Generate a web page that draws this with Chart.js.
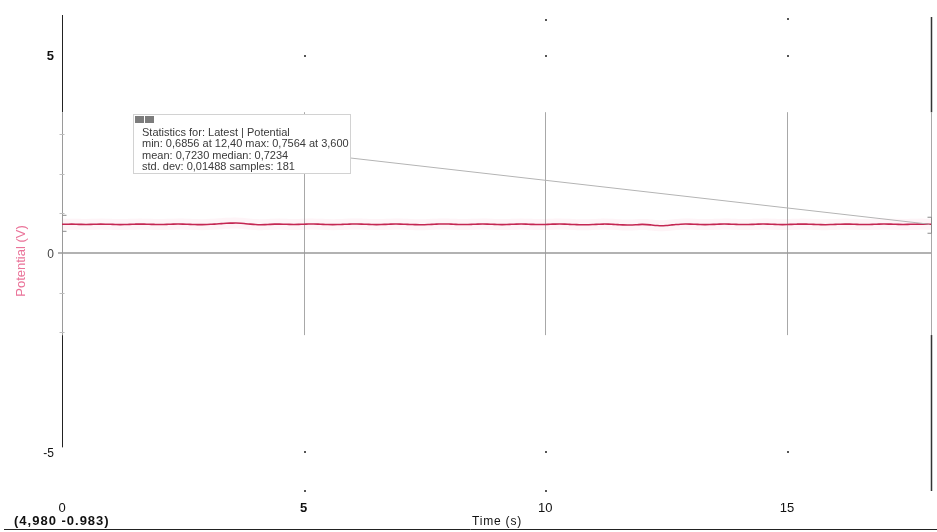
<!DOCTYPE html>
<html>
<head>
<meta charset="utf-8">
<script src="https://cdn.jsdelivr.net/npm/chart.js@4/dist/chart.umd.min.js"></script>
<style>
  html, body { margin: 0; padding: 0; background: #fff; }
  #graph { display: block; }
</style>
</head>
<body>
<canvas id="graph" width="937" height="532"></canvas>
<script>
// logger run: 181 samples, one every 0.1 s
const sampleInterval = 0.1;
const potential = [
  0.7234, 0.7251, 0.7268, 0.7245, 0.7212, 0.7198, 0.7221, 0.7259, 0.7283, 0.7266,
  0.7231, 0.7187, 0.7154, 0.7179, 0.7226, 0.7262, 0.7291, 0.7274, 0.7238, 0.7205,
  0.7171, 0.7189, 0.7233, 0.7278, 0.7302, 0.7285, 0.7241, 0.7196, 0.7158, 0.7143,
  0.7180, 0.7247, 0.7318, 0.7402, 0.7489, 0.7531, 0.7564, 0.7497, 0.7381, 0.7268,
  0.7175, 0.7128, 0.7153, 0.7217, 0.7269, 0.7288, 0.7254, 0.7209, 0.7186, 0.7213,
  0.7257, 0.7293, 0.7304, 0.7271, 0.7220, 0.7172, 0.7149, 0.7168, 0.7215, 0.7263,
  0.7297, 0.7312, 0.7284, 0.7237, 0.7194, 0.7161, 0.7177, 0.7226, 0.7274, 0.7301,
  0.7289, 0.7243, 0.7198, 0.7152, 0.7117, 0.7136, 0.7194, 0.7256, 0.7297, 0.7318,
  0.7296, 0.7251, 0.7203, 0.7176, 0.7189, 0.7232, 0.7279, 0.7305, 0.7286, 0.7240,
  0.7195, 0.7164, 0.7181, 0.7229, 0.7272, 0.7294, 0.7271, 0.7228, 0.7187, 0.7170,
  0.7198, 0.7247, 0.7289, 0.7306, 0.7279, 0.7226, 0.7172, 0.7131, 0.7104, 0.7127,
  0.7183, 0.7245, 0.7291, 0.7276, 0.7219, 0.7153, 0.7082, 0.7041, 0.7069, 0.7137,
  0.7205, 0.7158, 0.7046, 0.6931, 0.6856, 0.6924, 0.7058, 0.7182, 0.7265, 0.7298,
  0.7281, 0.7237, 0.7191, 0.7163, 0.7178, 0.7221, 0.7268, 0.7296, 0.7283, 0.7246,
  0.7201, 0.7169, 0.7184, 0.7226, 0.7271, 0.7302, 0.7289, 0.7244, 0.7198, 0.7165,
  0.7179, 0.7223, 0.7265, 0.7291, 0.7274, 0.7233, 0.7187, 0.7152, 0.7138, 0.7166,
  0.7214, 0.7259, 0.7287, 0.7279, 0.7241, 0.7203, 0.7185, 0.7197, 0.7236, 0.7273,
  0.7294, 0.7285, 0.7252, 0.7218, 0.7199, 0.7213, 0.7247, 0.7278, 0.7291, 0.7276,
  0.7248
];
const timeTicks = [0, 5, 10, 15];
const potentialTicks = [5, 0, -5];
const statsLines = [
  'Statistics for: Latest | Potential',
  'min: 0,6856 at 12,40 max: 0,7564 at 3,600',
  'mean: 0,7230 median: 0,7234',
  'std. dev: 0,01488 samples: 181'
];
const cursorReadout = '(4,980 -0.983)';

const points = potential.map((v, i) => ({ x: Math.round(i * sampleInterval * 10) / 10, y: v }));

const FONT = '"Liberation Sans", Arial, sans-serif';

const graphDecor = {
  id: 'graphDecor',
  beforeDatasetsDraw(chart) {
    const { ctx, chartArea: a, scales: { x, y } } = chart;
    const bandTop = y.getPixelForValue(3.55);
    const bandBot = y.getPixelForValue(-2.07);
    ctx.save();
    ctx.lineWidth = 1;

    // vertical grid, only the middle strip
    ctx.strokeStyle = '#a8a8a8';
    timeTicks.slice(1).forEach(t => {
      const px = Math.round(x.getPixelForValue(t)) + 0.5;
      ctx.beginPath();
      ctx.moveTo(px, bandTop);
      ctx.lineTo(px, bandBot);
      ctx.stroke();
    });

    // zero line
    const y0 = y.getPixelForValue(0);
    ctx.strokeStyle = '#999';
    ctx.lineWidth = 1.7;
    ctx.beginPath();
    ctx.moveTo(a.left - 4, y0);
    ctx.lineTo(a.right, y0);
    ctx.stroke();

    // left axis: dark outside the strip, grey inside
    const lx = Math.round(a.left) + 0.5;
    ctx.lineWidth = 1;
    ctx.strokeStyle = '#222';
    ctx.beginPath();
    ctx.moveTo(lx, a.top);
    ctx.lineTo(lx, bandTop);
    ctx.moveTo(lx, bandBot);
    ctx.lineTo(lx, y.getPixelForValue(-4.9));
    ctx.stroke();
    ctx.strokeStyle = '#9a9a9a';
    ctx.beginPath();
    ctx.moveTo(lx, bandTop);
    ctx.lineTo(lx, bandBot);
    ctx.stroke();

    // small ticks on the left axis inside the strip
    ctx.strokeStyle = '#bdbdbd';
    [3, 2, 1, -1, -2].forEach(v => {
      const py = Math.round(y.getPixelForValue(v)) + 0.5;
      ctx.beginPath();
      ctx.moveTo(lx - 3, py);
      ctx.lineTo(lx + 2, py);
      ctx.stroke();
    });

    // right edge
    const rx = Math.round(a.right) - 0.5;
    ctx.strokeStyle = '#333';
    ctx.lineWidth = 1.5;
    ctx.beginPath();
    ctx.moveTo(rx, a.top + 2);
    ctx.lineTo(rx, bandTop);
    ctx.moveTo(rx, bandBot);
    ctx.lineTo(rx, a.bottom);
    ctx.stroke();
    ctx.strokeStyle = '#a8a8a8';
    ctx.lineWidth = 1;
    ctx.beginPath();
    ctx.moveTo(rx, bandTop);
    ctx.lineTo(rx, bandBot);
    ctx.stroke();

    // grid dots left outside the strip
    ctx.fillStyle = '#555';
    const dot = (t, v) => ctx.fillRect(Math.round(x.getPixelForValue(t)), Math.round(y.getPixelForValue(v)), 2, 2);
    timeTicks.slice(1).forEach(t => { dot(t, 5); dot(t, -5); });
    dot(10, 5.9); dot(15, 5.92); dot(5, -5.98); dot(10, -5.98);
    ctx.restore();
  },
  afterDatasetsDraw(chart) {
    const { ctx, chartArea: a, scales: { x, y } } = chart;
    ctx.save();

    // range brackets at both ends of the selection
    const yl = y.getPixelForValue(potential[0]);
    const yr = y.getPixelForValue(potential[potential.length - 1]);
    ctx.strokeStyle = '#8a8a8a';
    ctx.lineWidth = 1;
    const lx = Math.round(a.left) + 0.5;
    ctx.beginPath();
    ctx.moveTo(lx + 4, yl - 9); ctx.lineTo(lx, yl - 9);
    ctx.moveTo(lx + 4, yl + 7); ctx.lineTo(lx, yl + 7);
    ctx.stroke();
    const rx = Math.round(a.right) - 0.5;
    ctx.beginPath();
    ctx.moveTo(rx - 4, yr - 7); ctx.lineTo(rx, yr - 7); ctx.lineTo(rx, yr + 9); ctx.lineTo(rx - 4, yr + 9);
    ctx.stroke();

    // statistics box and its leader line
    const box = { left: 133.5, top: 114.5, w: 217, h: 59 };
    ctx.strokeStyle = '#b4b4b4';
    ctx.beginPath();
    ctx.moveTo(box.left + box.w, 158);
    ctx.lineTo(rx - 2, yr);
    ctx.stroke();

    ctx.fillStyle = '#fff';
    ctx.fillRect(box.left, box.top, box.w, box.h);
    ctx.strokeStyle = '#d2d2d2';
    ctx.strokeRect(box.left, box.top, box.w, box.h);
    ctx.fillStyle = '#7c7c7c';
    ctx.fillRect(box.left + 1.5, box.top + 1.5, 9, 7);
    ctx.fillRect(box.left + 11.5, box.top + 1.5, 9, 7);

    ctx.fillStyle = '#3a3a3a';
    ctx.font = '11px ' + FONT;
    ctx.textBaseline = 'middle';
    ctx.textAlign = 'left';
    statsLines.forEach((s, i) => ctx.fillText(s, 142, 133 + i * 11.3));

    // tick labels
    ctx.textAlign = 'right';
    potentialTicks.forEach(v => {
      ctx.font = (v === 5 ? 'bold 13px ' : '12px ') + FONT;
      ctx.fillStyle = v === 0 ? '#444' : '#111';
      ctx.fillText(String(v), 54, y.getPixelForValue(v) + 2);
    });
    ctx.textAlign = 'center';
    ctx.fillStyle = '#111';
    timeTicks.forEach(t => {
      ctx.font = (t === 5 ? 'bold 13px ' : '13px ') + FONT;
      ctx.fillText(String(t), x.getPixelForValue(t), a.bottom + 17);
    });

    // y-axis title
    ctx.save();
    ctx.translate(21, 261);
    ctx.rotate(-Math.PI / 2);
    ctx.fillStyle = '#ea7399';
    ctx.font = '13px ' + FONT;
    ctx.fillText('Potential (V)', 0, 0);
    ctx.restore();

    // bottom strip: cursor readout, axis name, rule
    ctx.fillStyle = '#111';
    ctx.font = 'bold 13px ' + FONT;
    ctx.textAlign = 'left';
    ctx.letterSpacing = '1px';
    ctx.fillText(cursorReadout, 14, 521);
    ctx.font = '12px ' + FONT;
    ctx.textAlign = 'center';
    ctx.letterSpacing = '0.8px';
    ctx.fillText('Time (s)', 497, 522);
    ctx.letterSpacing = '0px';
    ctx.strokeStyle = '#222';
    ctx.beginPath();
    ctx.moveTo(4, 529.5);
    ctx.lineTo(937, 529.5);
    ctx.stroke();
    ctx.restore();
  }
};

new Chart(document.getElementById('graph'), {
  type: 'line',
  data: {
    datasets: [
      {
        label: 'Potential halo',
        data: points,
        borderColor: 'rgba(240, 120, 155, 0.08)',
        borderWidth: 11,
        pointRadius: 0,
        tension: 0.3
      },
      {
        label: 'Potential',
        data: points,
        borderColor: '#c0204c',
        borderWidth: 1.6,
        pointRadius: 0,
        tension: 0.3
      }
    ]
  },
  options: {
    responsive: false,
    animation: false,
    layout: { padding: { left: 62, right: 5, top: 15, bottom: 41 } },
    plugins: { legend: { display: false }, tooltip: { enabled: false } },
    scales: {
      x: { type: 'linear', min: 0, max: 18, display: false },
      y: { type: 'linear', min: -6, max: 6, display: false }
    }
  },
  plugins: [graphDecor]
});
</script>
</body>
</html>
